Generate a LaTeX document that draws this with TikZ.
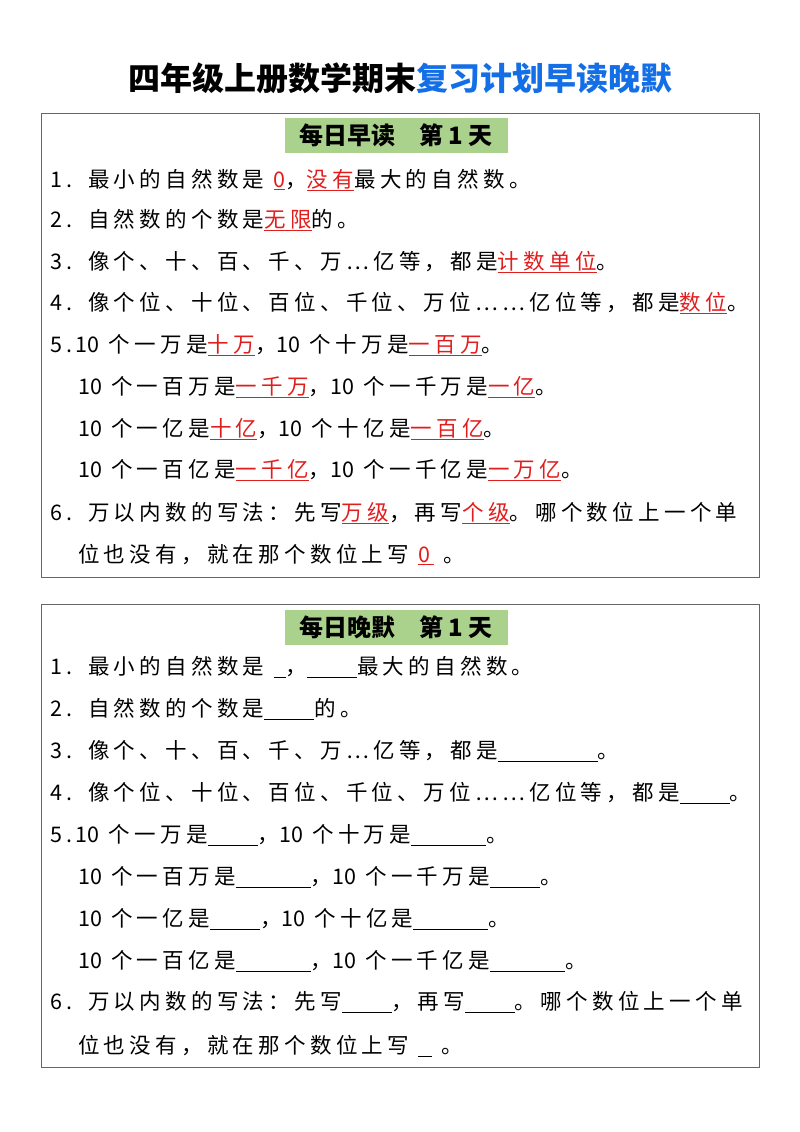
\documentclass[tikz,border=0pt]{standalone}
\usepackage{fontspec}
\setmainfont{Noto Sans CJK SC}
\newfontfamily\spaced[LetterSpace=20]{Noto Sans CJK SC}
\definecolor{titleblue}{RGB}{20,110,230}
\definecolor{hdrgreen}{RGB}{170,210,140}
\definecolor{ansred}{RGB}{225,30,30}
\newcommand{\ans}[1]{\textcolor{ansred}{\underline{#1}}}
\newcommand{\blk}[1]{\rule[-3pt]{#1pt}{0.8pt}}
\newcommand{\nm}[1]{{\addfontfeature{LetterSpace=0}#1}}
\begin{document}
\begin{tikzpicture}[x=1pt,y=-1pt,
  txt/.style={anchor=west,inner sep=0pt,font=\spaced\fontsize{21.5}{24}\selectfont},
  hdr/.style={fill=hdrgreen,inner sep=0pt,minimum width=223pt,minimum height=35pt,font=\fontsize{24}{28}\selectfont\bfseries},
  frame/.style={draw=black!60,line width=0.8pt}]
\useasboundingbox (0,0) rectangle (800,1132);
\node[inner sep=0pt,font=\fontsize{32}{36}\selectfont\bfseries] (title) at (400,78) {四年级上册数学期末\textcolor{titleblue}{复习计划早读晚默}};
% box 1
\draw[frame] (41,113) rectangle (759,577);
\node[hdr] (h1) at (396,135) {每日早读\quad 第 1 天};
\node[txt] (a1) at (50,180) {1.\, 最小的自然数是 \ans{0}，\ans{没有}最大的自然数。};
\node[txt] (a2) at (50,220) {2.\, 自然数的个数是\ans{无限}的。};
\node[txt] (a3) at (50,262) {3.\, 像个、十、百、千、万…亿等，都是\ans{计数单位}。};
\node[txt] (a4) at (50,303) {4.\, 像个位、十位、百位、千位、万位……亿位等，都是\ans{数位}。};
\node[txt] (a5) at (50,345) {5.\,\nm{10} 个一万是\ans{十万}，\nm{10} 个十万是\ans{一百万}。};
\node[txt] (a6) at (78,387) {\nm{10} 个一百万是\ans{一千万}，\nm{10} 个一千万是\ans{一亿}。};
\node[txt] (a7) at (78,429) {\nm{10} 个一亿是\ans{十亿}，\nm{10} 个十亿是\ans{一百亿}。};
\node[txt] (a8) at (78,470) {\nm{10} 个一百亿是\ans{一千亿}，\nm{10} 个一千亿是\ans{一万亿}。};
\node[txt] (a9) at (50,513) {6.\, 万以内数的写法：先写\ans{万级}，再写\ans{个级}。哪个数位上一个单};
\node[txt] (a10) at (78,555) {位也没有，就在那个数位上写 \ans{0\,} 。};
% box 2
\draw[frame] (41,604) rectangle (759,1067);
\node[hdr] (h2) at (396,627) {每日晚默\quad 第 1 天};
\node[txt] (b1) at (50,667) {1.\, 最小的自然数是 \blk{12}，\blk{50}最大的自然数。};
\node[txt] (b2) at (50,709) {2.\, 自然数的个数是\blk{50}的。};
\node[txt] (b3) at (50,751) {3.\, 像个、十、百、千、万…亿等，都是\blk{100}。};
\node[txt] (b4) at (50,793) {4.\, 像个位、十位、百位、千位、万位……亿位等，都是\blk{50}。};
\node[txt] (b5) at (50,835) {5.\,\nm{10} 个一万是\blk{50}，\nm{10} 个十万是\blk{75}。};
\node[txt] (b6) at (78,877) {\nm{10} 个一百万是\blk{75}，\nm{10} 个一千万是\blk{50}。};
\node[txt] (b7) at (78,919) {\nm{10} 个一亿是\blk{50}，\nm{10} 个十亿是\blk{75}。};
\node[txt] (b8) at (78,961) {\nm{10} 个一百亿是\blk{75}，\nm{10} 个一千亿是\blk{75}。};
\node[txt] (b9) at (50,1002) {6.\, 万以内数的写法：先写\blk{50}，再写\blk{50}。哪个数位上一个单};
\node[txt] (b10) at (78,1046) {位也没有，就在那个数位上写 \blk{14} 。};
\end{tikzpicture}
\end{document}
